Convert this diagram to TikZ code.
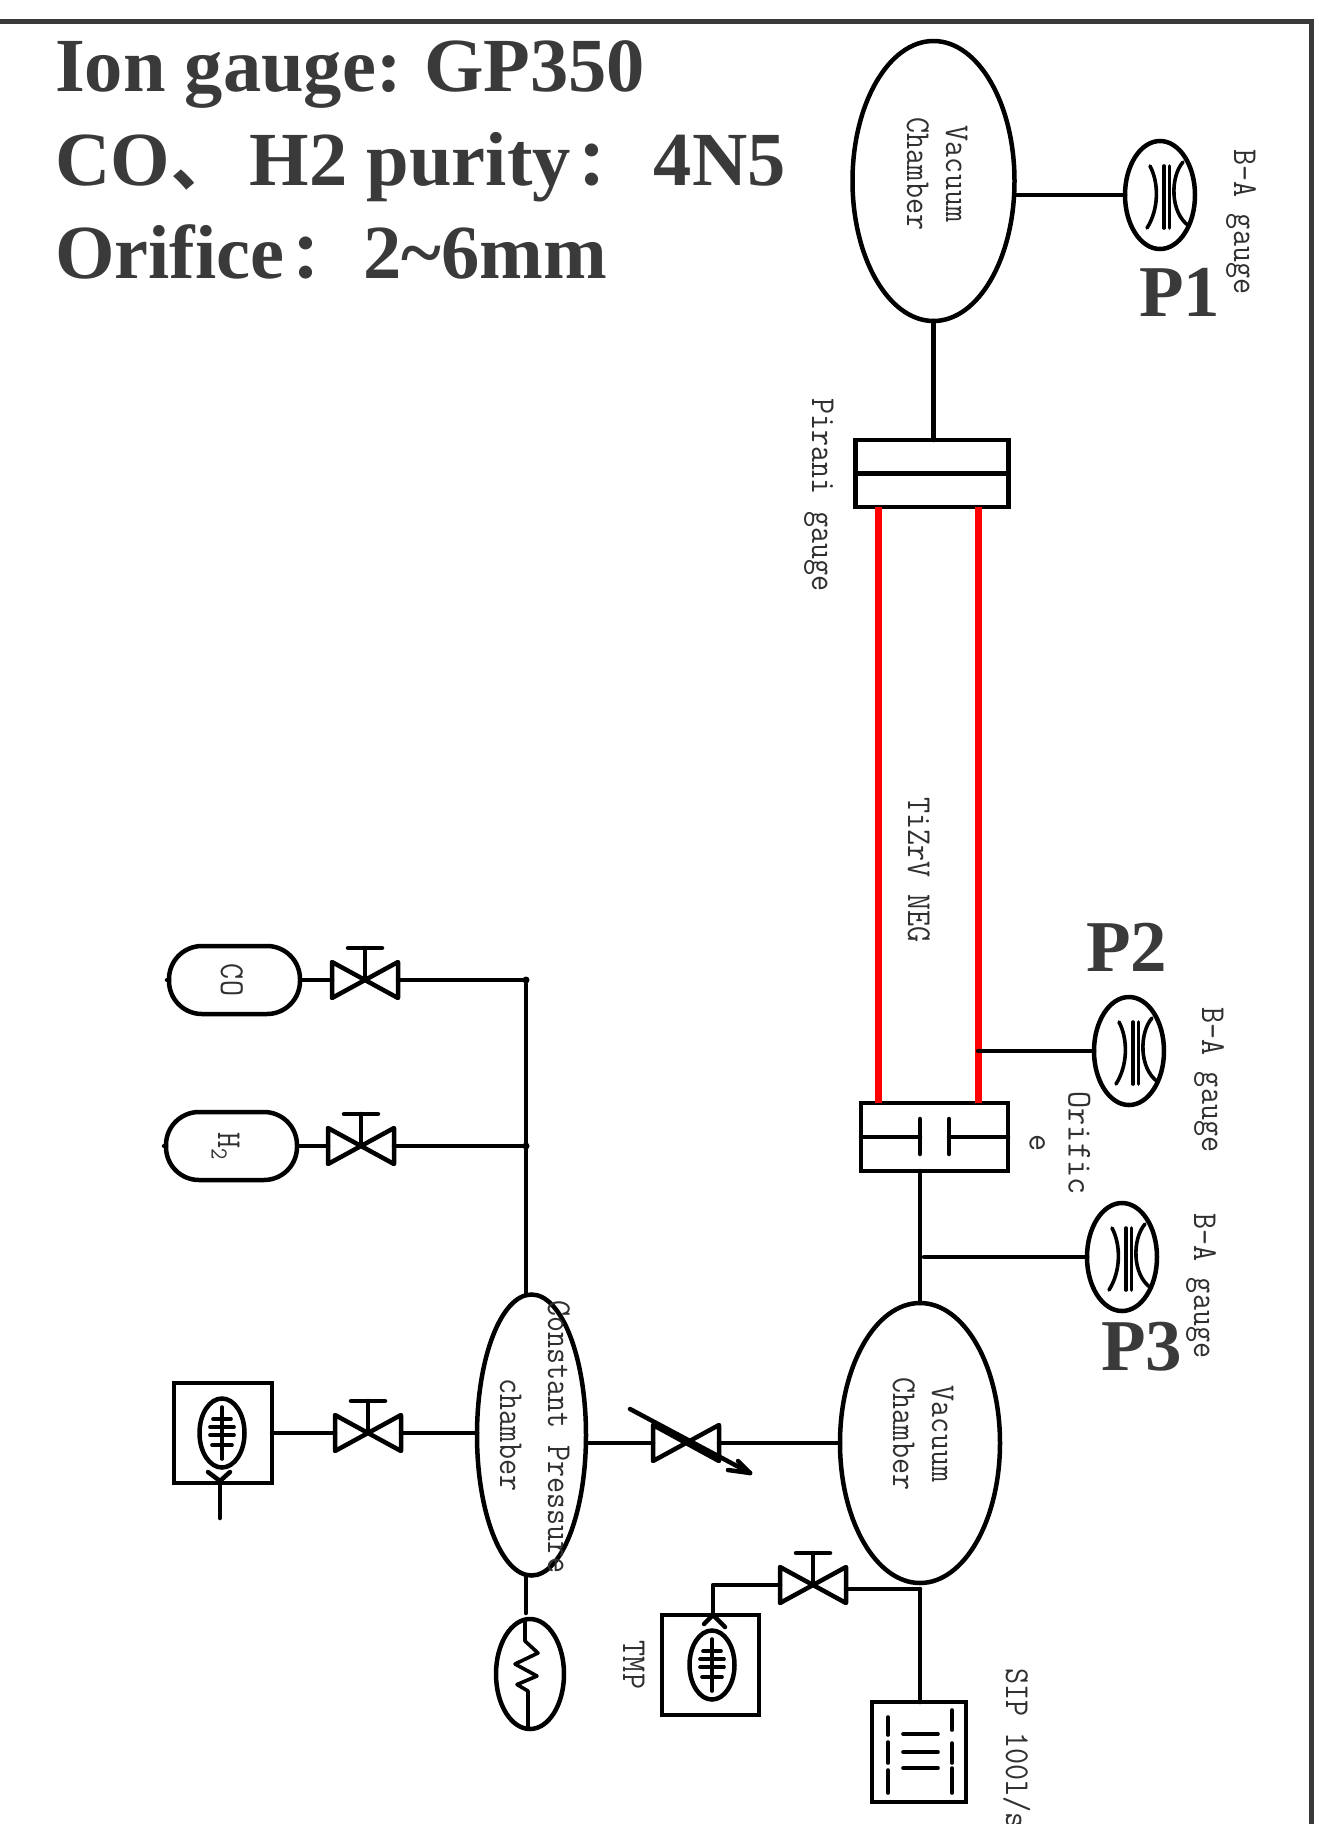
\documentclass[tikz,border=0pt]{standalone}
\usepackage{fontspec}
\setmainfont{Liberation Serif}
\newfontfamily\cjkf{Noto Sans CJK SC}
\usetikzlibrary{shapes.geometric,arrows.meta}
\definecolor{framegray}{HTML}{3A3A3A}
\definecolor{labgray}{HTML}{303030}
\newcommand{\tl}[2][.89]{\scalebox{#1}[1]{\ttfamily\begin{tabular}{@{}c@{}}#2\end{tabular}}}
\newcommand{\cjkcolon}[1]{\hspace{6pt}{\cjkf\bfseries\fontsize{62}{62}\selectfont ：}\hspace{#1}}
\newcommand{\cjkpause}{\hspace{2pt}{\cjkf\fontsize{62}{62}\selectfont 、}\hspace{16pt}}
\tikzset{
  pipe/.style={line width=4.5pt,black,line cap=round,line join=round},
  thin pipe/.style={line width=3.6pt,black,line cap=round,line join=round},
  ell/.style={draw=black,line width=4.5pt,ellipse,inner sep=0pt,outer sep=0pt},
  boxn/.style={draw=black,line width=4.5pt,rectangle,inner sep=0pt,outer sep=0pt},
  ghost/.style={rectangle,inner sep=0pt,outer sep=0pt},
  bottle/.style={draw=black,line width=4.5pt,rounded corners=33pt,rectangle,inner sep=0pt,outer sep=0pt,minimum width=131pt,minimum height=68pt},
  neg/.style={line width=7pt,red},
  lab/.style={rotate=-90,inner sep=0pt,text=labgray,font=\fontsize{35}{39}\selectfont},
  head/.style={anchor=base west,inner sep=0pt,text=framegray,font=\fontsize{76.5}{90}\selectfont\bfseries},
  pnum/.style={anchor=base west,inner sep=0pt,text=framegray,font=\fontsize{73}{90}\selectfont\bfseries},
}
% valve body centred at #2,#3
\newcommand{\valvebody}[3]{%
  \node[ghost,minimum width=66pt,minimum height=36pt] (#1) at (#2,#3) {};
  \draw[pipe] (#1.north west) -- (#1.south east) -- (#1.north east) -- (#1.south west) -- cycle;
}
% valve with hand wheel
\newcommand{\valve}[3]{%
  \valvebody{#1}{#2}{#3}
  \coordinate (#1bar) at ([yshift=32pt]#1.center);
  \draw[pipe] (#1.center) -- (#1bar);
  \draw[pipe] ([xshift=-17pt]#1bar) -- ([xshift=17pt]#1bar);
}
% hot-cathode gauge
\newcommand{\gauge}[3]{%
  \node[ell,minimum width=70pt,minimum height=108pt] (#1) at (#2,#3) {};
  \begin{scope}[shift={(#1.center)}]
    \draw[thin pipe] (-10,-29) .. controls (-1,-12) and (-1,14) .. (-13,33);
    \draw[thin pipe] (4,-29) -- (4,33);
    \draw[thin pipe] (9.5,-29) -- (9.5,33);
    \draw[thin pipe] (23,-33) .. controls (10,-18) and (10,18) .. (29,31);
  \end{scope}
}
% turbo pump symbol
\newcommand{\fan}[3]{%
  \node[ell,minimum width=45pt,minimum height=69pt] (#1) at (#2,#3) {};
  \begin{scope}[shift={(#1.center)}]
    \draw[thin pipe] (0,-26) -- (0,26);
    \draw[thin pipe] (-9,-14) -- (9,-14);
    \draw[thin pipe] (-12,-6) -- (12,-6);
    \draw[thin pipe] (-12,2) -- (12,2);
    \draw[thin pipe] (-10,12) -- (10,12);
  \end{scope}
}
\begin{document}
\begin{tikzpicture}[x=1pt,y=-1pt]
\clip (0,0) rectangle (1318,1824);
\fill[white] (0,0) rectangle (1318,1824);
\coordinate (fa) at (-5,21);
\coordinate (fb) at (1311,21);
\coordinate (fc) at (1311,1830);
\draw[line width=5pt,framegray,line join=miter] (fa) -- (fb) -- (fc);

% heading
\node[head] (h1) at (55,91) {Ion gauge:\hspace{-3pt} GP350};
\node[head] (h2) at (55,185) {CO\cjkpause H2 purity\cjkcolon{15pt}4N5};
\node[head] (h3) at (55,278) {Orifice\cjkcolon{11pt}2\textasciitilde6mm};
\node[pnum] (p1) at (1139,316) {P1};
\node[pnum] (p2) at (1086,971) {P2};
\node[pnum] (p3) at (1101,1370) {P3};

% upper section
\node[ell,minimum width=162pt,minimum height=280pt] (vc1) at (933.5,181) {};
\gauge{g1}{1160}{195}
\draw[pipe] (vc1.east |- g1.west) -- (g1.west);
\node[boxn,minimum width=153pt,minimum height=67pt] (pir) at (932,473.5) {};
\draw[pipe] (pir.west) -- (pir.east);
\draw[pipe] (vc1.south) -- (vc1.south |- pir.north);
\node[boxn,minimum width=147pt,minimum height=68pt] (ori) at (934.5,1137) {};
\coordinate (pl) at (920,1137);
\coordinate (pr) at (949,1137);
\draw[pipe] (ori.west) -- (pl);
\draw[pipe] (pr) -- (ori.east);
\draw[pipe] ([yshift=-17pt]pl) -- ([yshift=18pt]pl);
\draw[pipe] ([yshift=-17pt]pr) -- ([yshift=18pt]pr);
\coordinate (nl) at (878,1137);
\coordinate (nr) at (978,1137);
\draw[neg] (nl |- pir.south) -- (nl |- ori.north);
\draw[neg] (nr |- pir.south) -- (nr |- ori.north);
\gauge{g2}{1129}{1051}
\draw[pipe] (nr |- g2.west) -- (g2.west);

% lower chamber
\node[ell,minimum width=160pt,minimum height=280pt] (vc2) at (920,1443) {};
\draw[pipe] (vc2.north) -- (vc2.north |- ori.south);
\gauge{g3}{1122}{1257}
\coordinate (j3) at (924,1257);
\draw[pipe] (j3) -- (g3.west);

% constant pressure chamber
\node[ell,minimum width=109pt,minimum height=281pt] (cp) at (531.5,1435) {};
\valvebody{va}{686}{1443}
\draw[pipe] (cp.east |- va.west) -- (va.west);
\draw[pipe] (va.east) -- (vc2.west |- va.east);
\coordinate (aa) at (630,1409);
\coordinate (ab) at (750,1473);
\draw[pipe] (aa) -- (ab);
\draw[pipe] (ab) -- ++(-12,-12);
\draw[pipe] (ab) -- ++(-22,-3);

% gas lines
\node[bottle] (co) at (234.5,980) {};
\node[bottle] (h2b) at (231.5,1146) {};
\draw[pipe] (co.west) -- ++(-2,0);
\draw[pipe] (h2b.west) -- ++(-2,0);
\valve{v1}{365}{980}
\valve{v2}{361}{1146}
\coordinate (bus) at (526,980);
\coordinate (bus2) at (526,1146);
\draw[pipe] (co.east) -- (v1.west);
\draw[pipe] (v1.east) -- (bus);
\draw[pipe] (h2b.east) -- (v2.west);
\draw[pipe] (v2.east) -- (bus2);
\draw[pipe] ([yshift=-4pt]bus) -- (bus |- cp.north);
\fill (bus) circle (3.5pt);
\fill (bus2) circle (3.5pt);

% left pump
\node[boxn,minimum width=98pt,minimum height=100pt] (lp) at (223,1433) {};
\fan{f1}{222}{1433}
\valve{v3}{368}{1433}
\draw[pipe] (lp.east |- v3.west) -- (v3.west);
\draw[pipe] (v3.east) -- (cp.west |- v3.east);
\coordinate (ly) at (220,1481);
\coordinate (lt) at (220,1518);
\draw[pipe] (lt) -- (ly);
\draw[pipe] (208,1472) -- (ly) -- (230,1472);

% heater gauge
\node[ell,minimum width=68pt,minimum height=110pt] (pg) at (530,1674) {};
\coordinate (pa) at (526,1576);
\coordinate (pb) at (526,1613);
\draw[pipe] (pa) -- (pb);
\draw[thin pipe] (525,1621) -- (525,1641) -- (538,1653) -- (515,1664) -- (537,1676) -- (517,1684.5) -- (528,1691) -- (528,1727);

% TMP branch
\node[boxn,minimum width=97pt,minimum height=100pt] (tmp) at (710.5,1665) {};
\fan{f2}{712}{1665}
\valve{v4}{813}{1585}
\coordinate (ty) at (713,1615);
\coordinate (tc) at (713,1585);
\draw[pipe] (v4.west) -- (tc) -- (ty);
\draw[pipe] (704,1624) -- (ty) -- (725,1627);
\coordinate (sj) at (920,1589);
\draw[pipe] (v4.east |- sj) -- (sj);

% SIP
\node[boxn,minimum width=94pt,minimum height=100pt] (sip) at (919,1752) {};
\draw[pipe] (sj) -- (sj |- sip.north);
\foreach \ya/\yb in {1717/1735,1742/1763,1770/1793} \draw[thin pipe] (888,\ya) -- (888,\yb);
\foreach \ya/\yb in {1710/1730,1743/1763,1768/1793} \draw[thin pipe] (952,\ya) -- (952,\yb);
\foreach \yy in {1734,1752,1768} \draw[thin pipe] (903,\yy) -- (938,\yy);

% labels
\node[lab] (t1) at (934.5,174) {\tl{Vacuum\\Chamber}};
\node[lab] (t2) at (920.5,1434) {\tl{Vacuum\\Chamber}};
\node[lab] (t3) at (1242,222) {\tl{B-A\ gauge}};
\node[lab] (t4) at (820,495) {\tl{Pirani\ gauge}};
\node[lab] (t5) at (916,870) {\tl{TiZrV\ NEG}};
\node[lab] (t6) at (1210,1080) {\tl{B-A\ gauge}};
\node[lab] (t7) at (1057,1143) {\tl[.95]{Orific\\e}};
\node[lab] (t8) at (1202,1286) {\tl{B-A\ gauge}};
\node[lab] (t9) at (556,1437) {\tl{Constant Pressure}};
\node[lab] (t10) at (508,1435) {\tl{chamber}};
\node[lab] (t11) at (229,980) {\tl{CO}};
\node[lab] (t12) at (226,1146) {\tl{H\textsubscript{2}}};
\node[lab] (t13) at (631,1665) {\tl{TMP}};
\node[lab,anchor=west] (t14) at (1014,1668) {\tl{SIP\ 100l/s}};
\end{tikzpicture}
\end{document}
